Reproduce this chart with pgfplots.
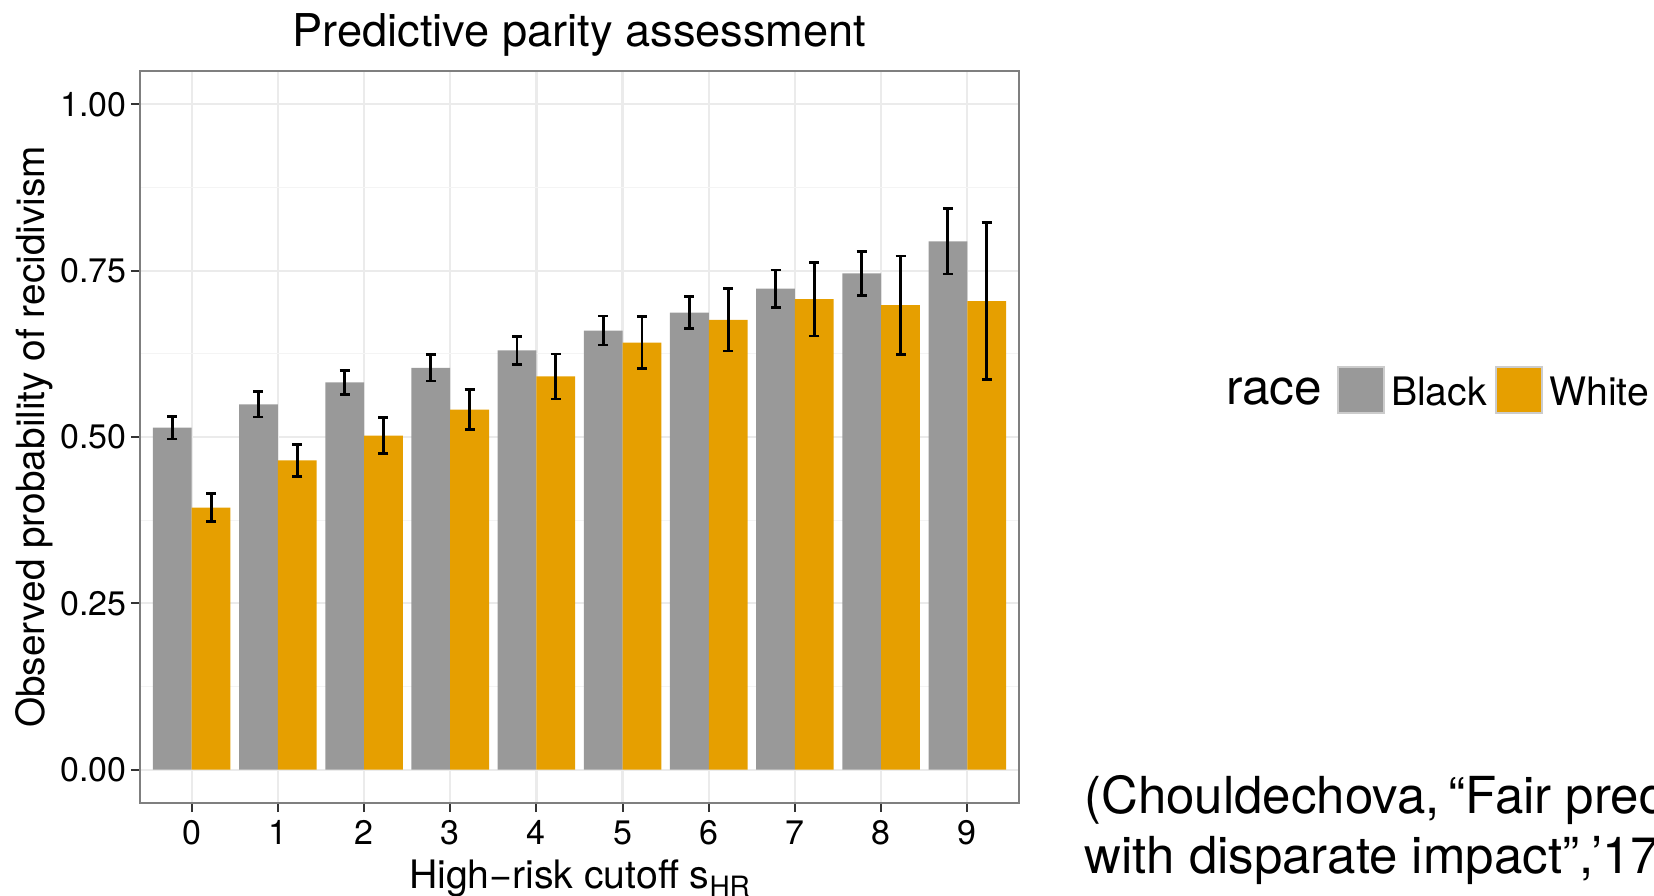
\documentclass[border=0pt]{standalone}
\usepackage{pgfplots}
\pgfplotsset{compat=1.18}
\usepackage{pgfplotstable}
\usepackage{fontspec}
\setmainfont{TeX Gyre Heros}
\definecolor{cBlack}{HTML}{999999}
\definecolor{cWhite}{HTML}{E69F00}
\definecolor{gridmaj}{HTML}{EBEBEB}
\definecolor{gridmin}{HTML}{F4F4F4}
\definecolor{panelborder}{HTML}{7F7F7F}
\definecolor{tickcol}{HTML}{333333}
\definecolor{legborder}{HTML}{CCCCCC}

\pgfplotstableread{
x y err
0 0.514 0.017
1 0.549 0.019
2 0.582 0.018
3 0.604 0.020
4 0.630 0.021
5 0.660 0.022
6 0.687 0.024
7 0.723 0.028
8 0.746 0.033
9 0.794 0.049
}\blackdata

\pgfplotstableread{
x y err
0 0.394 0.021
1 0.465 0.024
2 0.502 0.027
3 0.541 0.030
4 0.591 0.034
5 0.642 0.039
6 0.676 0.047
7 0.707 0.055
8 0.698 0.074
9 0.704 0.118
}\whitedata

\pgfplotsset{
  errbars/.style={error bars/.cd, y dir=both, y explicit, error mark=|,
    error bar style={draw=black, solid, line width=1.45pt},
    error mark options={draw=black, solid, line width=1.3pt, mark size=2.5pt}},
}

\begin{document}
\begin{tikzpicture}
\useasboundingbox (0,0) rectangle (827pt,447.5pt);
\clip (0,0) rectangle (827pt,447.5pt);
\begin{axis}[
  at={(70pt,46pt)}, anchor=south west,
  scale only axis, width=439.5pt, height=366pt,
  xmin=-0.6, xmax=9.6, ymin=-0.05, ymax=1.05,
  xtick={0,...,9},
  ytick={0,0.25,0.5,0.75,1},
  yticklabels={0.00,0.25,0.50,0.75,1.00},
  minor ytick={0.125,0.375,0.625,0.875},
  /pgf/number format/assume math mode=true,
  grid=both,
  major grid style={gridmaj, line width=1.1pt},
  minor grid style={gridmin, line width=0.6pt},
  tick align=outside, xtick pos=bottom, ytick pos=left,
  major tick length=4.5pt, minor tick length=0pt,
  tick style={tickcol, line width=1pt},
  axis line style={panelborder, line width=1.2pt},
  ticklabel style={font=\fontsize{17}{17}\selectfont, text=black},
  xticklabel style={anchor=base, yshift=-16pt},
  yticklabel style={anchor=east, inner sep=0pt, xshift=-2pt},
  title={Predictive parity assessment},
  title style={at={(axis description cs:0.5,1)}, anchor=base, yshift=6pt, font=\fontsize{22.6}{22.6}\selectfont},
  xlabel={High−risk cutoff s\raisebox{-0.22em}{\fontsize{14}{14}\selectfont HR}},
  xlabel style={at={(axis description cs:0.5,0)}, anchor=base, yshift=-42.5pt, font=\fontsize{19.6}{19.6}\selectfont},
  ylabel={Observed probability of recidivism},
  ylabel style={at={(axis description cs:-0.1208,0.5)}, anchor=center, font=\fontsize{19.4}{19.4}\selectfont},
  legend columns=-1,
  legend style={draw=none, fill=none, at={(1.2355,0.564)}, anchor=west, inner sep=0pt, outer sep=0pt,
    nodes={inner sep=0pt},
    font=\fontsize{19.6}{19.6}\selectfont,
    /tikz/column 2/.style={column sep=7.5pt},
    /tikz/column 3/.style={column sep=3pt},
    /tikz/column 4/.style={column sep=4pt},
    /tikz/column 5/.style={column sep=3pt}},
]
\addlegendimage{empty legend}
\addlegendentry{\fontsize{24.7}{24.7}\selectfont race}

\addplot[ybar, bar width=0.45, bar shift=0, fill=cBlack, draw=none,
  legend image code/.code={\draw[fill=cBlack, draw=legborder, line width=1.1pt] (0pt,-10pt) rectangle (23pt,13pt);},
  errbars]
  table[x expr=\thisrow{x}-0.225, y=y, y error=err] {\blackdata};
\addlegendentry{Black}

\addplot[ybar, bar width=0.45, bar shift=0, fill=cWhite, draw=none,
  legend image code/.code={\draw[fill=cWhite, draw=legborder, line width=1.1pt] (0pt,-10pt) rectangle (23pt,13pt);},
  errbars]
  table[x expr=\thisrow{x}+0.225, y=y, y error=err] {\whitedata};
\addlegendentry{White}
\end{axis}
\node[anchor=base west, inner sep=0pt, font=\fontsize{25.5}{25.5}\selectfont] at (542pt,41pt) {(Chouldechova,\hspace{0.18em}“Fair prediction};
\node[anchor=base west, inner sep=0pt, font=\fontsize{25.5}{25.5}\selectfont] at (542pt,11pt) {with disparate impact”,’17)};
\end{tikzpicture}
\end{document}
